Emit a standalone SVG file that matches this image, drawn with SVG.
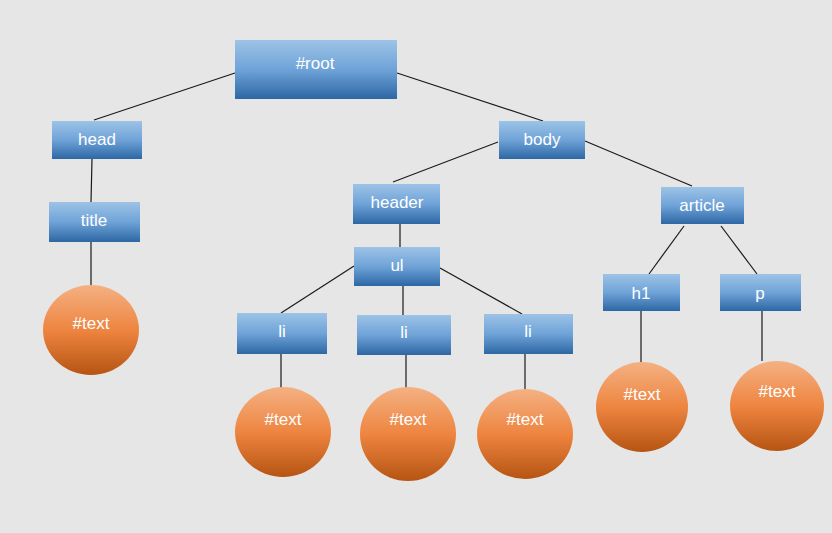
<svg xmlns="http://www.w3.org/2000/svg" width="832" height="533" viewBox="0 0 832 533">
<defs>
<linearGradient id="gb" x1="0" y1="0" x2="0" y2="1">
<stop offset="0" stop-color="#9dc3e6"/>
<stop offset="0.5" stop-color="#6fa3d8"/>
<stop offset="1" stop-color="#2d67a4"/>
</linearGradient>
<linearGradient id="go" x1="0" y1="0" x2="0" y2="1">
<stop offset="0" stop-color="#f4b183"/>
<stop offset="0.5" stop-color="#ee8540"/>
<stop offset="1" stop-color="#b65412"/>
</linearGradient>
<style>
.b{fill:url(#gb)}
.c{fill:url(#go)}
text{font-family:"Liberation Sans",Arial,sans-serif;font-size:17px;fill:#ffffff;text-anchor:middle}
.e line{stroke:#1a1a1a;stroke-width:1.2}
</style>
</defs>
<rect width="832" height="533" fill="#e6e6e6"/>
<g class="e" id="connectors">
<line x1="235" y1="73" x2="94" y2="120"/>
<line x1="397" y1="73" x2="543" y2="121"/>
<line x1="92" y1="159" x2="91" y2="202"/>
<line x1="91" y1="242" x2="91" y2="285"/>
<line x1="498" y1="142" x2="393" y2="182"/>
<line x1="585" y1="141" x2="692" y2="186"/>
<line x1="400" y1="224" x2="400" y2="247"/>
<line x1="354" y1="266" x2="281" y2="313"/>
<line x1="403" y1="286" x2="403" y2="315"/>
<line x1="440" y1="268" x2="522" y2="314"/>
<line x1="684" y1="226" x2="649" y2="274"/>
<line x1="721" y1="226" x2="757" y2="274"/>
<line x1="281" y1="354" x2="281" y2="388"/>
<line x1="406" y1="355" x2="406" y2="388"/>
<line x1="525" y1="354" x2="525" y2="389"/>
<line x1="641" y1="311" x2="641" y2="362"/>
<line x1="762" y1="311" x2="762" y2="361"/>
</g>
<g id="root"><rect class="b" x="235" y="40" width="162" height="59"/><text x="315" y="69">#root</text></g>
<g id="head"><rect class="b" x="52" y="121" width="90" height="38"/><text x="97" y="145">head</text></g>
<g id="title"><rect class="b" x="49" y="202" width="91" height="40"/><text x="94" y="226">title</text></g>
<g id="text-title"><ellipse class="c" cx="91" cy="330" rx="48" ry="45"/><text x="91" y="329">#text</text></g>
<g id="body"><rect class="b" x="499" y="121" width="86" height="38"/><text x="542" y="145">body</text></g>
<g id="header"><rect class="b" x="353" y="184" width="87" height="40"/><text x="397" y="208">header</text></g>
<g id="ul"><rect class="b" x="354" y="247" width="86" height="39"/><text x="397" y="271">ul</text></g>
<g id="article"><rect class="b" x="661" y="187" width="83" height="37"/><text x="702" y="211">article</text></g>
<g id="li1"><rect class="b" x="237" y="313" width="90" height="41"/><text x="282" y="337">li</text></g>
<g id="li2"><rect class="b" x="357" y="315" width="94" height="40"/><text x="404" y="338">li</text></g>
<g id="li3"><rect class="b" x="484" y="314" width="89" height="40"/><text x="528" y="337">li</text></g>
<g id="h1"><rect class="b" x="603" y="274" width="77" height="37"/><text x="641" y="299">h1</text></g>
<g id="p"><rect class="b" x="720" y="274" width="81" height="37"/><text x="760" y="299">p</text></g>
<g id="text-li1"><ellipse class="c" cx="283" cy="432" rx="48" ry="45"/><text x="283" y="425">#text</text></g>
<g id="text-li2"><ellipse class="c" cx="408" cy="434" rx="48" ry="47"/><text x="408" y="425">#text</text></g>
<g id="text-li3"><ellipse class="c" cx="525" cy="434" rx="48" ry="45"/><text x="525" y="425">#text</text></g>
<g id="text-h1"><ellipse class="c" cx="642" cy="407" rx="46" ry="45"/><text x="642" y="400">#text</text></g>
<g id="text-p"><ellipse class="c" cx="777" cy="406" rx="47" ry="45"/><text x="777" y="397">#text</text></g>
</svg>
